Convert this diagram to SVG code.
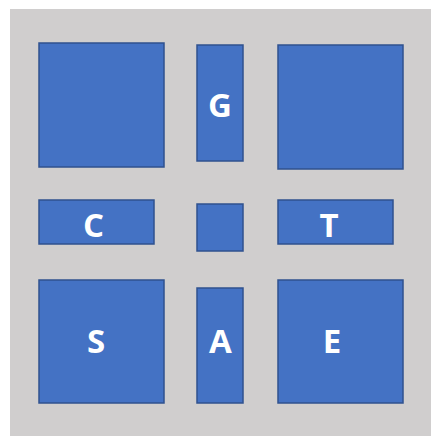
<svg xmlns="http://www.w3.org/2000/svg" width="431" height="436" viewBox="0 0 431 436">
<style>
.b{fill:#4472C4;stroke:#2F528F;stroke-width:1.5}
.t{fill:#fff;font-family:"Open Sans","Noto Sans",sans-serif;font-weight:bold;font-size:33px;text-anchor:middle}
</style>
<rect x="0" y="0" width="431" height="436" fill="#fff"/>
<rect x="10" y="9" width="421" height="427" fill="#D0CECE"/>
<g id="n-tl"><rect class="b" x="39" y="43" width="125" height="124"/></g>
<g id="n-G"><rect class="b" x="197" y="45" width="46" height="116"/><text class="t" x="220" y="117">G</text></g>
<g id="n-tr"><rect class="b" x="278" y="45" width="125" height="124"/></g>
<g id="n-C"><rect class="b" x="39" y="200" width="115" height="44"/><text class="t" x="93.5" y="237">C</text></g>
<g id="n-center"><rect class="b" x="197" y="204" width="46" height="47"/></g>
<g id="n-T"><rect class="b" x="278" y="200" width="115" height="44"/><text class="t" x="329" y="237">T</text></g>
<g id="n-S"><rect class="b" x="39" y="280" width="125" height="123"/><text class="t" x="96" y="353">S</text></g>
<g id="n-A"><rect class="b" x="197" y="288" width="46" height="115"/><text class="t" x="220.5" y="353">A</text></g>
<g id="n-E"><rect class="b" x="278" y="280" width="125" height="123"/><text class="t" x="332" y="353">E</text></g>
<g id="connectors"></g>
</svg>
